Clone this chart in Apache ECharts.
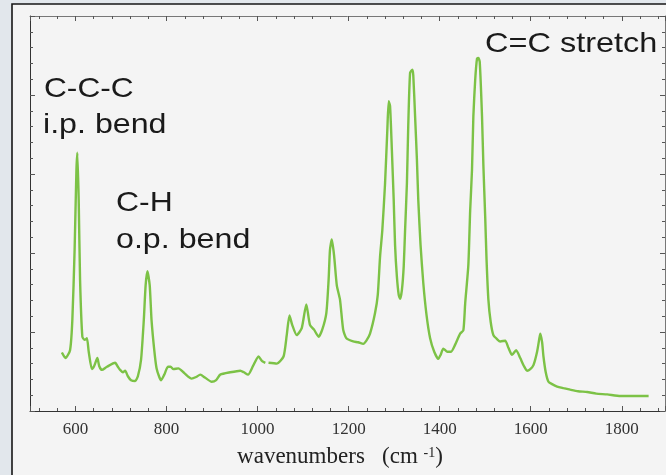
<!DOCTYPE html>
<html>
<head>
<meta charset="utf-8">
<script src="https://cdn.jsdelivr.net/npm/echarts@6/dist/echarts.min.js"></script>
<style>
html,body{margin:0;padding:0;background:#e2e7ec;}
#c{width:666px;height:475px;}
</style>
</head>
<body>
<div id="c"></div>
<script>
// Raman spectrum: wavenumber (cm-1) and relative intensity (arbitrary units)
const wavenumbers = [
  570, 578, 588, 593, 598, 602, 604, 607, 610, 615,
  620, 625, 629, 636, 641, 648, 652, 658, 669, 687,
  693, 698, 704, 709, 715, 722, 731, 737, 744, 750,
  754, 758, 763, 767, 773, 778, 784, 788, 795, 803,
  809, 815, 826, 839, 855, 865, 874, 885, 899, 909,
  918, 940, 962, 970, 979, 990, 1002, 1010, 1017, 1020,
  1024, 1042, 1057, 1064, 1070, 1076, 1086, 1097, 1107, 1115,
  1124, 1134, 1142, 1151, 1156, 1159, 1163, 1168, 1174, 1181,
  1188, 1195, 1210, 1221, 1232, 1239, 1247, 1258, 1264, 1269,
  1274, 1280, 1285, 1288, 1291, 1295, 1299, 1302, 1306, 1310,
  1313, 1317, 1321, 1324, 1328, 1331, 1335, 1340, 1342, 1346,
  1350, 1353, 1358, 1364, 1371, 1379, 1388, 1397, 1402, 1408,
  1417, 1425, 1434, 1445, 1452, 1456, 1463, 1467, 1471, 1474,
  1478, 1482, 1485, 1488, 1493, 1496, 1500, 1503, 1507, 1512,
  1518, 1526, 1533, 1544, 1551, 1559, 1568, 1577, 1585, 1592,
  1599, 1606, 1614, 1619, 1621, 1625, 1628, 1633, 1639, 1647,
  1658, 1672, 1687, 1704, 1724, 1744, 1768, 1797, 1826, 1859
];
const intensity = [
  0.74, 0.67, 0.77, 1.15, 2.04, 3.05, 3.27, 2.67, 1.66, 0.94,
  0.90, 0.92, 0.75, 0.53, 0.57, 0.67, 0.57, 0.52, 0.56, 0.61,
  0.56, 0.52, 0.49, 0.51, 0.44, 0.39, 0.38, 0.44, 0.65, 1.15,
  1.59, 1.77, 1.59, 1.15, 0.77, 0.54, 0.43, 0.39, 0.46, 0.56,
  0.56, 0.53, 0.54, 0.48, 0.41, 0.43, 0.46, 0.42, 0.37, 0.39,
  0.46, 0.49, 0.51, 0.49, 0.46, 0.57, 0.69, 0.63, 0.61, null,
  0.61, 0.60, 0.69, 0.96, 1.21, 1.09, 0.96, 1.05, 1.35, 1.09,
  1.03, 0.94, 1.03, 1.24, 1.66, 2.04, 2.17, 1.97, 1.59, 1.41,
  1.03, 0.92, 0.88, 0.87, 0.85, 0.89, 0.98, 1.24, 1.47, 1.95,
  2.29, 2.88, 3.56, 3.92, 3.86, 3.30, 2.67, 2.10, 1.70, 1.47,
  1.42, 1.53, 1.83, 2.29, 2.88, 3.62, 4.28, 4.32, 4.25, 3.73,
  3.18, 2.67, 2.10, 1.62, 1.22, 0.92, 0.75, 0.66, 0.71, 0.79,
  0.75, 0.75, 0.84, 0.98, 1.02, 1.36, 1.85, 2.54, 3.05, 3.73,
  4.19, 4.46, 4.47, 4.42, 3.73, 3.11, 2.46, 1.91, 1.41, 1.13,
  0.96, 0.91, 0.88, 0.89, 0.80, 0.71, 0.77, 0.67, 0.57, 0.51,
  0.53, 0.58, 0.75, 0.92, 0.98, 0.87, 0.69, 0.49, 0.37, 0.34,
  0.31, 0.29, 0.27, 0.25, 0.24, 0.22, 0.21, 0.19, 0.19, 0.19
];
// axis extents and tick steps
const xRange = [500, 1895];
const yRange = [0, 5];
const majorStep = 200;
const minorStep = 40;
const tickStep = 5;
// peak annotations
const annotations = [
  'C-C-C', 'i.p. bend', 'C-H', 'o.p. bend', 'C=C stretch'
];

const tickCats = [];
for (let v = xRange[0]; v <= xRange[1]; v += tickStep) tickCats.push(String(v));

const seriesData = wavenumbers.map((w, i) => [w, intensity[i]]);

const axisColor = '#333';
const tickColor = '#555';

function majorAxis(pos, showLabel) {
  return {
    type: 'value', position: pos, min: xRange[0], max: xRange[1], splitNumber: 7,
    axisLine: {show: true, lineStyle: {color: pos === 'bottom' ? axisColor : '#777', width: 1}},
    axisTick: {show: true, inside: true, length: 5, lineStyle: {color: tickColor}},
    minorTick: {show: false},
    splitLine: {show: false},
    axisLabel: showLabel ? {
      show: true, margin: 10, color: '#333',
      fontFamily: 'Liberation Serif', fontSize: 17,
      formatter: v => (v % majorStep === 0 && v > xRange[0] && v < xRange[1]) ? String(v) : ''
    } : {show: false}
  };
}
function minorAxis(pos) {
  return {
    type: 'category', position: pos, data: tickCats, boundaryGap: false,
    axisLine: {show: false},
    axisTick: {show: true, inside: true, length: 3, lineStyle: {color: tickColor},
      interval: (idx, val) => (+val) % minorStep === 0},
    axisLabel: {show: false},
    splitLine: {show: false}
  };
}
function yAxis(pos) {
  return {
    type: 'value', position: pos, min: yRange[0], max: yRange[1], interval: 1,
    axisLine: {show: true, lineStyle: {color: pos === 'left' ? axisColor : '#777', width: 1}},
    axisTick: {show: true, inside: true, length: 5, lineStyle: {color: tickColor}},
    minorTick: {show: true, splitNumber: 5, length: 3, lineStyle: {color: tickColor}},
    axisLabel: {show: false},
    splitLine: {show: false}
  };
}

const xMain = majorAxis('bottom', true);
xMain.name = '{a|wavenumbers   (cm }{s|-1}{a|)}';
xMain.nameLocation = 'middle';
xMain.nameGap = 34;
xMain.nameTextStyle = {
  padding: [0, 15, 0, 0],
  rich: {
    a: {fontFamily: 'Liberation Serif', fontSize: 23, color: '#222', lineHeight: 24},
    s: {fontFamily: 'Liberation Serif', fontSize: 14, color: '#222', padding: [0, 0, 7, 0]}
  }
};

const labelFont = '28px "Liberation Sans", Arial, sans-serif';
function note(text, x, y, sx) {
  return {
    type: 'text', x: x, y: y, scaleX: sx, z: 10,
    style: {text: text, x: 0, y: 0, font: labelFont, fill: '#1a1a1a',
      textAlign: 'left', textVerticalAlign: 'middle', align: 'left', verticalAlign: 'middle'}
  };
}

const chart = echarts.init(document.getElementById('c'), null, {renderer: 'canvas'});
chart.setOption({
  backgroundColor: 'transparent',
  animation: false,
  grid: {left: 30, right: 1, top: 16, bottom: 64, containLabel: false, outerBoundsMode: 'none'},
  xAxis: [xMain, minorAxis('bottom'), majorAxis('top', false), minorAxis('top')],
  yAxis: [yAxis('left'), yAxis('right')],
  graphic: [
    {type: 'rect', z: -10, silent: true,
      shape: {x: 12, y: 4, width: 700, height: 500},
      style: {fill: '#f4f4f4', stroke: '#161616', lineWidth: 1.6}},
    note(annotations[0], 44, 89, 1.13),
    note(annotations[1], 43, 125, 1.15),
    note(annotations[2], 116, 203, 1.14),
    note(annotations[3], 116, 240, 1.15),
    note(annotations[4], 485, 44, 1.16)
  ],
  series: [{
    type: 'line', xAxisIndex: 0, yAxisIndex: 0,
    data: seriesData, showSymbol: false, smooth: 0.2,
    connectNulls: false,
    lineStyle: {color: '#7cc246', width: 2.4},
    z: 5
  }]
});
</script>
</body>
</html>
